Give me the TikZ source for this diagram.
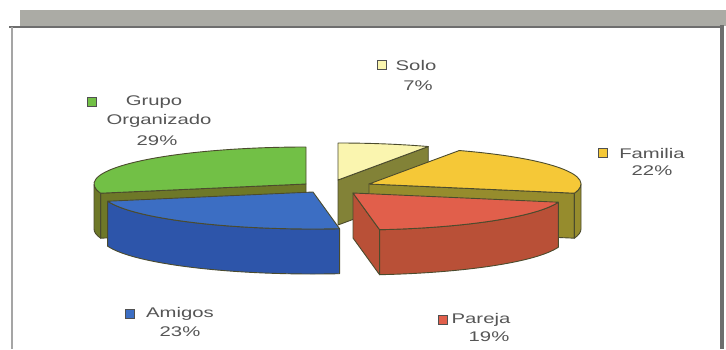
\documentclass[tikz,border=0pt]{standalone}
\usepackage{fontspec}
\setmainfont{Liberation Sans}[FakeStretch=1.45]
\usetikzlibrary{calc}
\definecolor{grupoTop}{HTML}{72C046}
\definecolor{grupoSide}{HTML}{6E7828}
\definecolor{amigosTop}{HTML}{3C6EC3}
\definecolor{amigosSide}{HTML}{2D55AA}
\definecolor{soloTop}{HTML}{FAF5AF}
\definecolor{soloSide}{HTML}{828237}
\definecolor{familiaTop}{HTML}{F5C837}
\definecolor{familiaSide}{HTML}{968C2D}
\definecolor{parejaTop}{HTML}{E15F4B}
\definecolor{parejaSide}{HTML}{B95037}
\definecolor{pieLine}{HTML}{4B4B2D}
\definecolor{keyLine}{HTML}{505050}
\definecolor{lblGray}{HTML}{555555}
\definecolor{bandGray}{HTML}{ABABA5}
\definecolor{frameDark}{HTML}{6E6E6E}
\definecolor{frameLight}{HTML}{A5A5A5}

\begin{document}
\begin{tikzpicture}[x=1pt,y=1pt,
    slice/.style={draw=pieLine,line width=0.9pt,line join=round},
    key/.style={draw=keyLine,line width=0.6pt,minimum size=8.5pt,inner sep=0pt},
    lbl/.style={text=lblGray,font=\fontsize{14}{16}\selectfont,inner sep=0pt}]
  \useasboundingbox (0,0) rectangle (726,349);
  % frame
  \fill[bandGray] (20,339) rectangle (726,323);
  \draw[frameDark,line width=2pt] (9,322) -- (722,322);
  \draw[frameLight,line width=2.5pt] (12,322) -- (12,0);
  \draw[frameDark,line width=4pt] (722,324) -- (722,0);

  \coordinate (solo) at (338,169);
  \coordinate (grupo) at (306,165);
  \coordinate (familia) at (369,165);
  \coordinate (amigos) at (313,157);
  \coordinate (pareja) at (353,156);

  % Solo
  \filldraw[slice,fill=soloSide] (solo) -- ++(64.8:212 and 37) -- ++(0,-45) -- ([yshift=-45pt]solo) -- cycle;
  \filldraw[slice,fill=soloTop] (solo) -- ++(64.8:212 and 37) arc[start angle=64.8,end angle=90,x radius=212,y radius=37] -- cycle;
  % Grupo Organizado
  \filldraw[slice,fill=grupoSide] (grupo) -- ++(194.4:212 and 37) -- ++(0,-45) -- ([yshift=-45pt]grupo) -- cycle;
  \filldraw[slice,fill=grupoSide] (grupo) ++(180:212 and 37) arc[start angle=180,end angle=194.4,x radius=212,y radius=37] -- ++(0,-45) arc[start angle=194.4,end angle=180,x radius=212,y radius=37] -- cycle;
  \filldraw[slice,fill=grupoTop] (grupo) -- ++(90:212 and 37) arc[start angle=90,end angle=194.4,x radius=212,y radius=37] -- cycle;
  % Familia
  \filldraw[slice,fill=familiaSide] (familia) -- ++(-14.4:212 and 37) -- ++(0,-45) -- ([yshift=-45pt]familia) -- cycle;
  \filldraw[slice,fill=familiaSide] (familia) ++(-14.4:212 and 37) arc[start angle=-14.4,end angle=0,x radius=212,y radius=37] -- ++(0,-45) arc[start angle=0,end angle=-14.4,x radius=212,y radius=37] -- cycle;
  \filldraw[slice,fill=familiaTop] (familia) -- ++(-14.4:212 and 37) arc[start angle=-14.4,end angle=64.8,x radius=212,y radius=37] -- cycle;
  % Amigos
  \filldraw[slice,fill=amigosSide] (amigos) ++(-165.6:212 and 37) arc[start angle=-165.6,end angle=-82.8,x radius=212,y radius=37] -- ++(0,-45) arc[start angle=-82.8,end angle=-165.6,x radius=212,y radius=37] -- cycle;
  \filldraw[slice,fill=amigosTop] (amigos) -- ++(-165.6:212 and 37) arc[start angle=-165.6,end angle=-82.8,x radius=212,y radius=37] -- cycle;
  % Pareja
  \filldraw[slice,fill=parejaSide] (pareja) -- ++(-82.8:212 and 37) -- ++(0,-45) -- ([yshift=-45pt]pareja) -- cycle;
  \filldraw[slice,fill=parejaSide] (pareja) ++(-82.8:212 and 37) arc[start angle=-82.8,end angle=-14.4,x radius=212,y radius=37] -- ++(0,-45) arc[start angle=-14.4,end angle=-82.8,x radius=212,y radius=37] -- cycle;
  \filldraw[slice,fill=parejaTop] (pareja) -- ++(-82.8:212 and 37) arc[start angle=-82.8,end angle=-14.4,x radius=212,y radius=37] -- cycle;

  % legend
  \node[key,fill=soloTop] (soloK) at (382,284) {};
  \node[lbl] (soloT) at (416,284) {Solo};
  \node[lbl] (soloP) at (418,263) {7\%};
  \node[key,fill=grupoTop] (grupoK) at (92,247) {};
  \node[lbl] (grupoT) at (154,247) {Grupo};
  \node[lbl] (grupoT2) at (159,228) {Organizado};
  \node[lbl] (grupoP) at (157,208) {29\%};
  \node[key,fill=familiaTop] (familiaK) at (603,196) {};
  \node[lbl] (familiaT) at (652,196) {Familia};
  \node[lbl] (familiaP) at (652,178) {22\%};
  \node[key,fill=amigosTop] (amigosK) at (130,35) {};
  \node[lbl] (amigosT) at (180,35) {Amigos};
  \node[lbl] (amigosP) at (180,17) {23\%};
  \node[key,fill=parejaTop] (parejaK) at (443,29) {};
  \node[lbl] (parejaT) at (481,29) {Pareja};
  \node[lbl] (parejaP) at (489,12) {19\%};
\end{tikzpicture}
\end{document}
